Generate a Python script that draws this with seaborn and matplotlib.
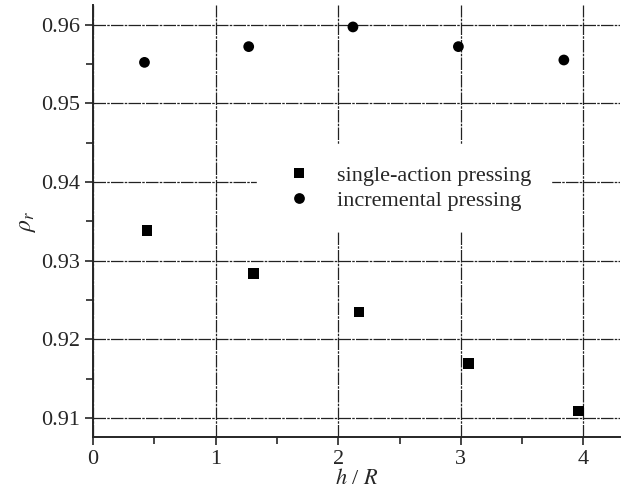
import seaborn as sns
import matplotlib.pyplot as plt
import pandas as pd

# data
single_x = [0.44, 1.31, 2.17, 3.06, 3.96]
single_y = [0.9338, 0.9284, 0.9235, 0.9169, 0.9109]
incr_x = [0.42, 1.27, 2.12, 2.98, 3.84]
incr_y = [0.9552, 0.9572, 0.9597, 0.9572, 0.9555]
labels = ["single-action pressing", "incremental pressing"]

df = pd.DataFrame({
    "x": single_x + incr_x,
    "y": single_y + incr_y,
    "method": [labels[0]] * len(single_x) + [labels[1]] * len(incr_x),
})

sns.set_style("ticks")
plt.rcParams["font.family"] = ["Liberation Serif", "DejaVu Serif"]
plt.rcParams["mathtext.fontset"] = "stix"

fig = plt.figure(figsize=(6.24, 4.90), dpi=100)
ax = fig.add_axes([0.149, 0.108, 0.845, 0.882])

ax.grid(True, which="major", color="#222222", lw=0.9, ls=(0, (10, 1, 2, 1)))
ax.set_axisbelow(True)

sns.scatterplot(data=df, x="x", y="y", hue="method", style="method",
                markers={labels[0]: "s", labels[1]: "o"},
                palette={labels[0]: "black", labels[1]: "black"},
                s=60, edgecolor="black", linewidth=0, ax=ax, zorder=3)

ax.set_xlim(0, 4.3)
ax.set_ylim(0.9076, 0.9625)
ax.set_xticks([0, 1, 2, 3, 4])
ax.set_xticks([0.5, 1.5, 2.5, 3.5], minor=True)
ax.set_yticks([0.91, 0.92, 0.93, 0.94, 0.95, 0.96])
ax.set_yticks([0.915, 0.925, 0.935, 0.945, 0.955], minor=True)
ax.set_yticklabels(["0.91", "0.92", "0.93", "0.94", "0.95", "0.96"])
ax.tick_params(which="major", length=6, width=1.2, labelsize=16, direction="out")
ax.tick_params(which="minor", length=5, width=1.2, direction="out")

for side in ["top", "right"]:
    ax.spines[side].set_visible(False)
for side in ["left", "bottom"]:
    ax.spines[side].set_linewidth(1.4)

ax.set_xlabel("$h$ / $R$", fontsize=16, labelpad=0)
ax.set_ylabel(r"$\rho_r$", fontsize=17, labelpad=2)

leg = ax.legend(loc="center left", bbox_to_anchor=(0.29, 0.576), frameon=True,
                fontsize=16, handletextpad=0.7, labelspacing=0.2,
                borderpad=0.9, markerscale=1.0)
leg.get_frame().set_edgecolor("white")
leg.get_frame().set_facecolor("white")
leg.get_frame().set_alpha(1)

fig.savefig("out.png", dpi=100)
